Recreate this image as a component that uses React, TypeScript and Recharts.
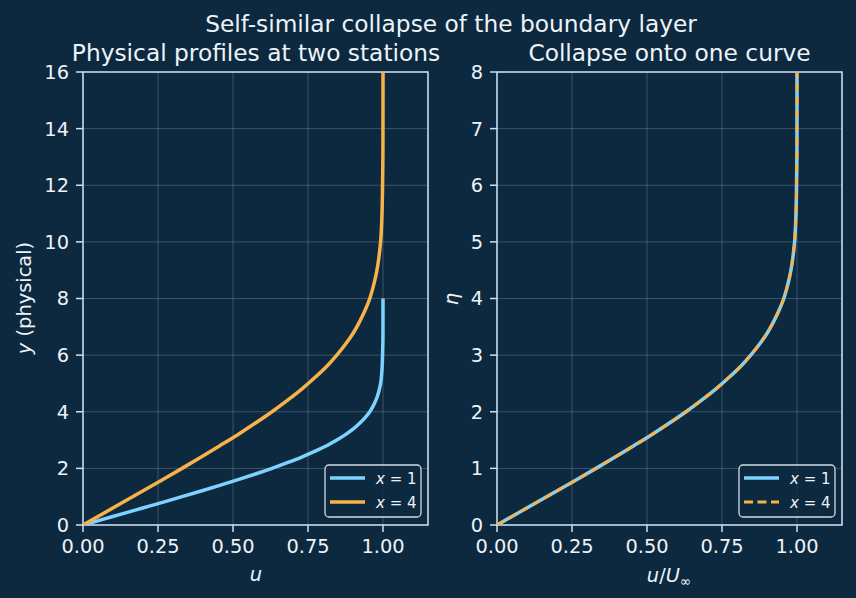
import { CartesianGrid, Line, LineChart, ReferenceArea, XAxis, YAxis } from "recharts";

const bg = "#0c2940";
const fg = "#eef3f8";
const spine = "#cde0ef";
const blue = "#7fd2ff";
const orange = "#f7b24a";
const font = "'DejaVu Sans', sans-serif";

// similarity coordinate and velocity ratio
const eta = [
  0, 0.2, 0.4, 0.6, 0.8, 1.0, 1.2, 1.4, 1.6, 1.8, 2.0, 2.2, 2.4, 2.6, 2.8, 3.0, 3.2, 3.4, 3.6, 3.8, 4.0,
  4.2, 4.4, 4.6, 4.8, 5.0, 5.4, 5.8, 6.2, 6.6, 7.0, 7.5, 8.0,
];
const uRatio = [
  0, 0.066, 0.133, 0.199, 0.265, 0.330, 0.394, 0.456, 0.517, 0.575, 0.630, 0.681, 0.729, 0.772, 0.812,
  0.846, 0.876, 0.902, 0.923, 0.941, 0.956, 0.967, 0.976, 0.983, 0.988, 0.992, 0.996, 0.998, 0.999,
  0.9998, 0.9999, 1.0, 1.0,
];
// physical heights at the two stations
const yStation1 = eta;
const yStation4 = [
  0, 0.4, 0.8, 1.2, 1.6, 2.0, 2.4, 2.8, 3.2, 3.6, 4.0, 4.4, 4.8, 5.2, 5.6, 6.0, 6.4, 6.8, 7.2, 7.6, 8.0,
  8.4, 8.8, 9.2, 9.6, 10.0, 10.8, 11.6, 12.4, 13.2, 14.0, 15.0, 16.0,
];

const uTicks = [0, 0.25, 0.5, 0.75, 1.0];
const yTicks = [0, 2, 4, 6, 8, 10, 12, 14, 16];
const etaTicks = [0, 1, 2, 3, 4, 5, 6, 7, 8];

const physical1 = uRatio.map((u, i) => ({ u, y: yStation1[i] }));
const physical4 = uRatio.map((u, i) => ({ u, y: yStation4[i] }));
const collapsed1 = uRatio.map((u, i) => ({ u, y: eta[i] }));
const collapsed4 = uRatio.map((u, i) => ({ u, y: yStation4[i] / 2 }));

const tickStyle = { fill: fg, fontSize: 19.4 };
const tickLine = { stroke: spine, strokeWidth: 1.5 };

function Panel({
  left,
  width,
  marginLeft,
  marginRight,
  yMax,
  ticks,
  lines,
}: {
  left: number;
  width: number;
  marginLeft: number;
  marginRight: number;
  yMax: number;
  ticks: number[];
  lines: { data: { u: number; y: number }[]; color: string; w: number; dash?: string }[];
}) {
  return (
    <div style={{ position: "absolute", left, top: 0 }}>
      <LineChart
        layout="vertical"
        width={width}
        height={598}
        margin={{ top: 72, right: marginRight, bottom: 33, left: marginLeft }}
      >
        <CartesianGrid stroke="#ffffff" strokeOpacity={0.2} strokeWidth={1} />
        <XAxis
          type="number"
          dataKey="u"
          domain={[0, 1.15]}
          ticks={uTicks}
          tickFormatter={(v: number) => v.toFixed(2)}
          tick={tickStyle}
          tickLine={tickLine}
          tickSize={7}
          tickMargin={7}
          axisLine={false}
          height={40}
          allowDataOverflow
        />
        <YAxis
          type="number"
          dataKey="y"
          domain={[0, yMax]}
          ticks={ticks}
          reversed
          tick={tickStyle}
          tickLine={tickLine}
          tickSize={7}
          tickMargin={7}
          axisLine={false}
          width={60}
          allowDataOverflow
        />
        {lines.map((l, i) => (
          <Line
            key={i}
            data={l.data}
            dataKey="u"
            type="monotone"
            stroke={l.color}
            strokeWidth={l.w}
            strokeDasharray={l.dash}
            dot={false}
            activeDot={false}
            isAnimationActive={false}
          />
        ))}
        <ReferenceArea x1={0} x2={1.15} y1={0} y2={yMax} fill="none" stroke={spine} strokeWidth={1.5} />
      </LineChart>
    </div>
  );
}

function LegendBox({ x, dashed }: { x: number; dashed: boolean }) {
  return (
    <g>
      <rect x={x} y={465} width={96} height={52} rx={4} fill={bg} fillOpacity={0.8} stroke="#d4dbe2" strokeWidth={1.3} />
      <line x1={x + 5} x2={x + 40} y1={478} y2={478} stroke={blue} strokeWidth={3.5} />
      <line
        x1={x + 5}
        x2={x + 40}
        y1={502}
        y2={502}
        stroke={orange}
        strokeWidth={dashed ? 2.8 : 3.5}
        strokeDasharray={dashed ? "9 4.5" : undefined}
      />
      <text x={x + 51} y={484} fontSize={15} fill={fg}>
        <tspan fontStyle="italic">x</tspan> = 1
      </text>
      <text x={x + 51} y={508} fontSize={15} fill={fg}>
        <tspan fontStyle="italic">x</tspan> = 4
      </text>
    </g>
  );
}

export default function App() {
  return (
    <div
      style={{
        position: "absolute",
        left: 0,
        top: 0,
        width: 856,
        height: 598,
        background: bg,
        fontFamily: font,
        overflow: "hidden",
      }}
    >
      <Panel
        left={0}
        width={440}
        marginLeft={23}
        marginRight={12}
        yMax={16}
        ticks={yTicks}
        lines={[
          { data: physical1, color: blue, w: 3.5 },
          { data: physical4, color: orange, w: 3.5 },
        ]}
      />
      <Panel
        left={440}
        width={416}
        marginLeft={-3}
        marginRight={14}
        yMax={8}
        ticks={etaTicks}
        lines={[
          { data: collapsed1, color: blue, w: 3.5 },
          { data: collapsed4, color: orange, w: 2.8, dash: "9 4.5" },
        ]}
      />
      <svg
        width={856}
        height={598}
        style={{ position: "absolute", left: 0, top: 0, pointerEvents: "none", fontFamily: font }}
      >
        <text x={451} y={32} textAnchor="middle" fontSize={23.3} fill={fg}>
          Self-similar collapse of the boundary layer
        </text>
        <text x={256} y={61} textAnchor="middle" fontSize={23.3} fill={fg}>
          Physical profiles at two stations
        </text>
        <text x={669.5} y={61} textAnchor="middle" fontSize={23.3} fill={fg}>
          Collapse onto one curve
        </text>
        <text x={256} y={581} textAnchor="middle" fontSize={19.4} fill={fg} fontStyle="italic">
          u
        </text>
        <text x={669} y={582} textAnchor="middle" fontSize={19.4} fill={fg}>
          <tspan fontStyle="italic">u</tspan>/<tspan fontStyle="italic">U</tspan>
          <tspan fontSize={13.5} dy={4}>∞</tspan>
        </text>
        <text transform="translate(31,298) rotate(-90)" textAnchor="middle" fontSize={19.4} fill={fg}>
          <tspan fontStyle="italic">y</tspan> (physical)
        </text>
        <text transform="translate(458,299) rotate(-90)" textAnchor="middle" fontSize={19.4} fill={fg} fontStyle="italic">
          η
        </text>
        <LegendBox x={325} dashed={false} />
        <LegendBox x={739} dashed={true} />
      </svg>
    </div>
  );
}
